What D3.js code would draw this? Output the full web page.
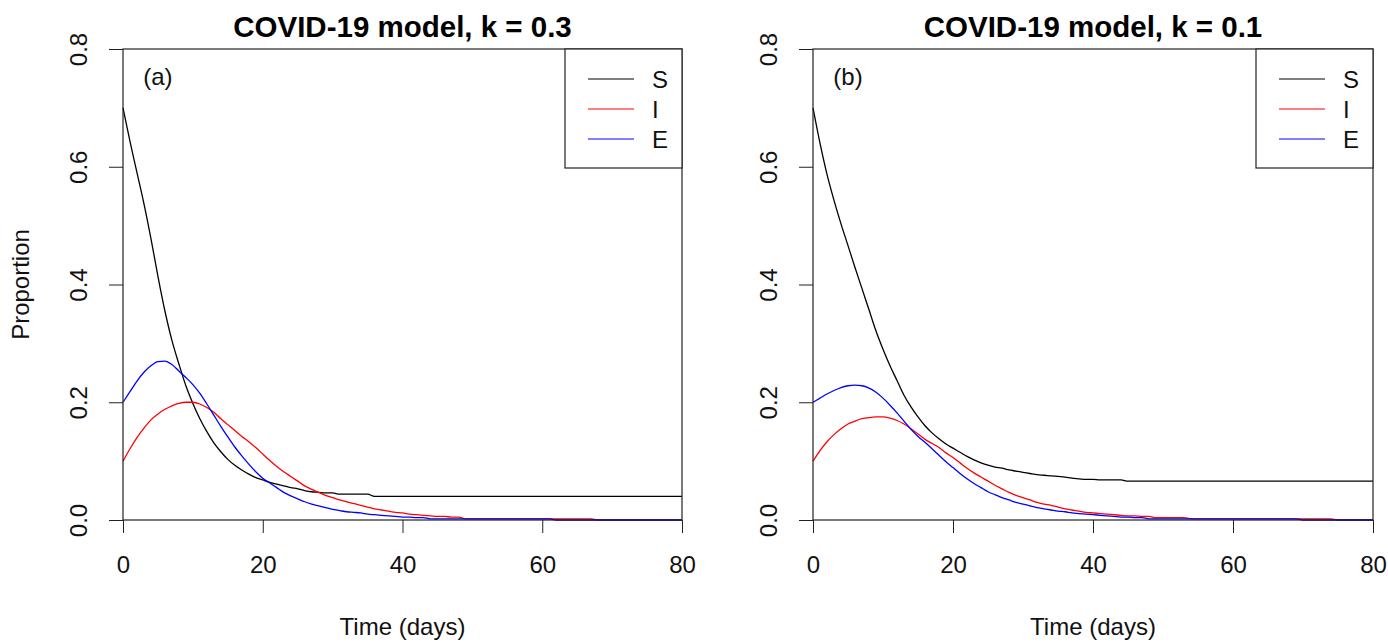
<!DOCTYPE html>
<html>
<head>
<meta charset="utf-8">
<script src="https://cdn.jsdelivr.net/npm/d3@7"></script>
<style>
  body { margin: 0; background: #fff; }
  svg { font-family: "Liberation Sans", Arial, sans-serif; }
</style>
</head>
<body>
<script>
// time grid in days (one value per day)
const days = d3.range(0, 81);

const xTicks = [0, 20, 40, 60, 80];
const yTicks = [0, 0.2, 0.4, 0.6, 0.8];
const seriesNames = ["S", "I", "E"];
const seriesColors = ["#000000", "#ff0000", "#0000ff"];

// panel (a), k = 0.3
const sA = [
  .700,.643,.590,.537,.478,.414,.355,.305,.265,.228,
  .198,.172,.150,.131,.116,.103,.093,.085,.078,.072,
  .068,.064,.061,.058,.055,.053,.050,.048,.047,.046,
  .046,.044,.044,.044,.044,.044,.040,.040,.040,.040,
  .040,.040,.040,.040,.040,.040,.040,.040,.040,.040,
  .040,.040,.040,.040,.040,.040,.040,.040,.040,.040,
  .040,.040,.040,.040,.040,.040,.040,.040,.040,.040,
  .040,.040,.040,.040,.040,.040,.040,.040,.040,.040,
  .040];
const iA = [
  .100,.121,.140,.156,.170,.180,.188,.194,.198,.200,
  .200,.197,.191,.183,.172,.162,.152,.142,.133,.123,
  .112,.101,.091,.082,.074,.066,.058,.052,.047,.042,
  .038,.034,.031,.028,.025,.022,.019,.017,.015,.013,
  .012,.010,.009,.008,.007,.006,.006,.005,.005,.002,
  .002,.002,.002,.002,.002,.002,.002,.002,.002,.002,
  .002,.002,.002,.002,.002,.002,.002,.002,0,0,
  0,0,0,0,0,0,0,0,0,0,
  0];
const eA = [
  .200,.218,.236,.251,.262,.269,.270,.264,.253,.242,
  .230,.215,.197,.178,.159,.141,.124,.109,.095,.082,
  .071,.063,.055,.047,.041,.036,.031,.027,.024,.021,
  .018,.016,.014,.013,.012,.010,.009,.008,.007,.006,
  .005,.005,.004,.004,.002,.002,.002,.002,.002,.002,
  .002,.002,.002,.002,.002,.002,.002,.002,.002,.002,
  .002,.002,0,0,0,0,0,0,0,0,
  0,0,0,0,0,0,0,0,0,0,
  0];

// panel (b), k = 0.1
const sB = [
  .700,.640,.587,.543,.503,.466,.429,.393,.357,.321,
  .290,.262,.237,.212,.192,.175,.160,.148,.138,.129,
  .122,.115,.108,.102,.097,.093,.090,.088,.085,.083,
  .081,.079,.077,.076,.075,.074,.073,.071,.070,.069,
  .069,.068,.068,.068,.068,.066,.066,.066,.066,.066,
  .066,.066,.066,.066,.066,.066,.066,.066,.066,.066,
  .066,.066,.066,.066,.066,.066,.066,.066,.066,.066,
  .066,.066,.066,.066,.066,.066,.066,.066,.066,.066,
  .066];
const iB = [
  .100,.118,.133,.145,.155,.163,.168,.172,.174,.175,
  .175,.173,.169,.163,.155,.146,.137,.130,.123,.114,
  .106,.097,.088,.080,.073,.066,.059,.053,.047,.042,
  .038,.034,.030,.027,.025,.022,.019,.017,.015,.013,
  .012,.011,.010,.009,.008,.007,.007,.006,.006,.004,
  .004,.004,.004,.004,.002,.002,.002,.002,.002,.002,
  .002,.002,.002,.002,.002,.002,.002,.002,.002,.002,
  .002,.002,.002,.002,.002,0,0,0,0,0,
  0];
const eB = [
  .200,.207,.214,.220,.225,.228,.229,.228,.224,.217,
  .207,.195,.182,.168,.154,.142,.132,.121,.110,.099,
  .089,.079,.070,.062,.055,.048,.043,.038,.034,.030,
  .027,.024,.021,.019,.017,.015,.014,.012,.011,.010,
  .009,.008,.007,.006,.005,.005,.004,.004,.002,.002,
  .002,.002,.002,.002,.002,.002,.002,.002,.002,.002,
  .002,.002,.002,.002,.002,.002,.002,.002,.002,.002,
  0,0,0,0,0,0,0,0,0,0,
  0];

const svg = d3.select("body").append("svg")
  .attr("width", 1388)
  .attr("height", 643);

function drawPanel(left, right, title, tag, series, showYTitle) {
  const top = 49, bottom = 520;
  const x = d3.scaleLinear().domain([0, 80]).range([left, right]);
  const y = d3.scaleLinear().domain([0, 0.8]).range([bottom, top]);
  const g = svg.append("g");

  // curves (S, I, E in that order so E sits on top)
  const line = d3.line()
    .x((d, i) => x(days[i]))
    .y(d => y(d))
    .curve(d3.curveMonotoneX);
  series.forEach((vals, k) => {
    g.append("path")
      .datum(vals)
      .attr("d", line)
      .attr("fill", "none")
      .attr("stroke", seriesColors[k])
      .attr("stroke-width", 1.3);
  });

  // x axis
  const xAxis = g.append("g")
    .attr("transform", `translate(0,${bottom})`)
    .call(d3.axisBottom(x).tickValues(xTicks).tickSize(13).tickSizeOuter(0));
  xAxis.select(".domain").remove();
  xAxis.selectAll("line").attr("stroke", "#222");
  xAxis.selectAll("text")
    .attr("y", 53).attr("dy", null)
    .attr("font-size", 24).attr("fill", "#111")
    .attr("font-family", "Liberation Sans, Arial, sans-serif");

  // y axis
  const yAxis = g.append("g")
    .attr("transform", `translate(${left},0)`)
    .call(d3.axisLeft(y).tickValues(yTicks).tickFormat(d3.format(".1f")).tickSize(14).tickSizeOuter(0));
  yAxis.select(".domain").remove();
  yAxis.selectAll("line").attr("stroke", "#222");
  yAxis.selectAll("text")
    .attr("x", null).attr("dy", null)
    .attr("text-anchor", "middle")
    .attr("transform", "translate(-36,0) rotate(-90)")
    .attr("font-size", 24).attr("fill", "#111")
    .attr("font-family", "Liberation Sans, Arial, sans-serif");

  // box
  g.append("rect")
    .attr("x", left).attr("y", top)
    .attr("width", right - left).attr("height", bottom - top)
    .attr("fill", "none").attr("stroke", "#222").attr("stroke-width", 1.2);

  // title
  g.append("text")
    .attr("x", (left + right) / 2).attr("y", 37)
    .attr("text-anchor", "middle")
    .attr("font-size", 29.5).attr("font-weight", "bold")
    .text(title);

  // x title
  g.append("text")
    .attr("x", (left + right) / 2).attr("y", 635)
    .attr("text-anchor", "middle")
    .attr("font-size", 24).attr("fill", "#111")
    .text("Time (days)");

  if (showYTitle) {
    g.append("text")
      .attr("transform", `translate(29,${(top + bottom) / 2}) rotate(-90)`)
      .attr("text-anchor", "middle")
      .attr("font-size", 24).attr("fill", "#111")
      .text("Proportion");
  }

  // panel tag
  g.append("text")
    .attr("x", x(5)).attr("y", y(0.75) + 7)
    .attr("text-anchor", "middle")
    .attr("font-size", 24).attr("fill", "#111")
    .text(tag);

  // legend
  const lgLeft = right - 117, lgBottom = 168;
  g.append("rect")
    .attr("x", lgLeft).attr("y", top)
    .attr("width", right - lgLeft).attr("height", lgBottom - top)
    .attr("fill", "#fff").attr("stroke", "#222").attr("stroke-width", 1.2);
  seriesNames.forEach((name, k) => {
    const ly = 79 + k * 30;
    g.append("line")
      .attr("x1", lgLeft + 23).attr("x2", lgLeft + 69)
      .attr("y1", ly).attr("y2", ly)
      .attr("stroke", seriesColors[k]).attr("stroke-width", 1.2);
    g.append("text")
      .attr("x", lgLeft + 87).attr("y", ly + 9)
      .attr("font-size", 24).attr("fill", "#111")
      .text(name);
  });
}

drawPanel(123, 682, "COVID-19 model, k = 0.3", "(a)", [sA, iA, eA], true);
drawPanel(813, 1373, "COVID-19 model, k = 0.1", "(b)", [sB, iB, eB], false);
</script>
</body>
</html>
